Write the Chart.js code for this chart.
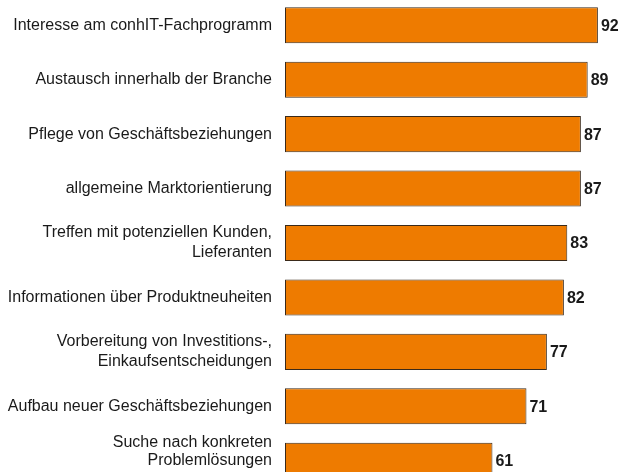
<!DOCTYPE html>
<html>
<head>
<meta charset="utf-8">
<script src="https://cdn.jsdelivr.net/npm/chart.js@4/dist/chart.umd.min.js"></script>
<style>
  html, body { margin: 0; padding: 0; background: #fff; overflow: hidden; }
  #wrap { position: relative; width: 620px; height: 490px; margin-top: -2px; }
</style>
</head>
<body>
<div id="wrap"><canvas id="chart1"></canvas></div>
<script>
var categories = [
  "Interesse am conhIT-Fachprogramm",
  "Austausch innerhalb der Branche",
  "Pflege von Geschäftsbeziehungen",
  "allgemeine Marktorientierung",
  ["Treffen mit potenziellen Kunden,", "Lieferanten"],
  "Informationen über Produktneuheiten",
  ["Vorbereitung von Investitions-,", "Einkaufsentscheidungen"],
  "Aufbau neuer Geschäftsbeziehungen",
  ["Suche nach konkreten", "Problemlösungen", ""]
];
var values = [92, 89, 87, 87, 83, 82, 77, 71, 61];

// writes the number just right of each bar end
var valueLabels = {
  id: "valueLabels",
  afterDatasetsDraw: function (chart) {
    var ctx = chart.ctx;
    var meta = chart.getDatasetMeta(0);
    ctx.save();
    ctx.font = "bold 16px 'Liberation Sans', Arial, sans-serif";
    ctx.fillStyle = "#1a1a1a";
    ctx.textAlign = "left";
    ctx.textBaseline = "middle";
    meta.data.forEach(function (bar, i) {
      ctx.fillText(values[i], bar.x + 3, bar.y + 1);
    });
    ctx.restore();
  }
};

var chart = new Chart("chart1", {
  type: "bar",
  data: {
    labels: categories,
    datasets: [
      {
        data: values,
        backgroundColor: "#ee7b00",
        borderColor: "#3a2a1a",
        borderWidth: 1,
        borderSkipped: false,
        categoryPercentage: 1,
        barPercentage: 0.662
      }
    ]
  },
  options: {
    indexAxis: "y",
    responsive: true,
    maintainAspectRatio: false,
    animation: false,
    layout: { padding: 0 },
    plugins: {
      legend: { display: false },
      tooltip: { enabled: false }
    },
    scales: {
      x: {
        display: false,
        min: 0,
        max: 98.5
      },
      y: {
        grid: { display: false, drawTicks: false },
        border: { display: false },
        ticks: {
          autoSkip: false,
          padding: 13,
          color: "#1a1a1a",
          font: function (c) {
            // last label sits a bit higher and tighter in the original
            var lh = c.index === categories.length - 1 ? 1.125 : 1.25;
            return { family: "'Liberation Sans', Arial, sans-serif", size: 16, lineHeight: lh };
          }
        },
        afterFit: function (scale) {
          scale.width = 285;
          scale.paddingTop = 0;
          scale.paddingBottom = 0;
        }
      }
    }
  },
  plugins: [valueLabels]
});
</script>
</body>
</html>
